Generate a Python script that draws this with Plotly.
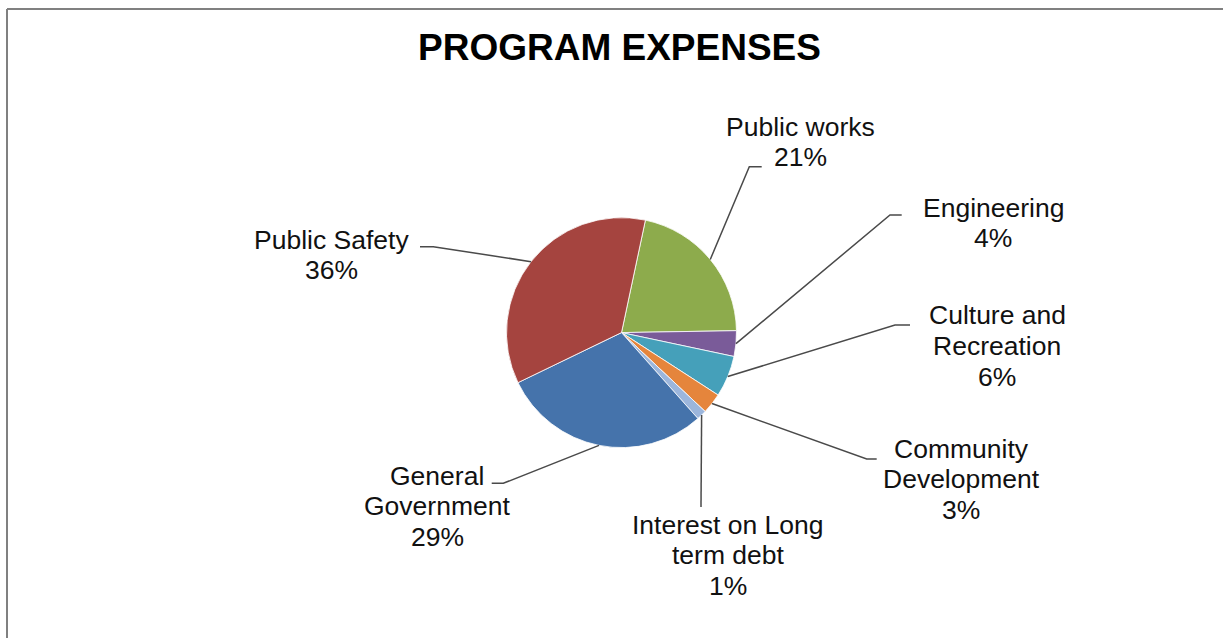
import math
import plotly.graph_objects as go

# ---- data ----
categories = ["Public works", "Engineering", "Culture and Recreation", "Community Development",
              "Interest on Long term debt", "General Government", "Public Safety"]
label_lines = [["Public works"], ["Engineering"], ["Culture and", "Recreation"], ["Community", "Development"],
               ["Interest on Long", "term debt"], ["General", "Government"], ["Public Safety"]]
values = [21.4, 3.6, 5.8, 2.9, 1.4, 29.4, 35.5]
colors = ["#8DAB4C", "#7A5B99", "#45A0BA", "#E5853C", "#9CB6DC", "#4573AB", "#A5443F"]

# ---- layout (pixels) ----
W, H = 1223, 638
CX, CY, R = 621.5, 332.6, 115.0
ROTATION = 12
LINE_H = 30.5
# label block centres and leader-line elbow points (label side), in pixels
label_pos = [(800, 142), (993, 223), (997, 346), (961, 479), (728, 555), (437, 506), (331, 255)]
elbows = [[(749.3, 166.7), (761.7, 166.7)],
          [(890, 215), (901.7, 215)],
          [(895, 325), (910, 325)],
          [(866.7, 459), (876.7, 459)],
          [(701, 507)],
          [(503.3, 483.3), (491.7, 483.3)],
          [(433.3, 246.7), (420, 246.7)]]

def px(x):
    return x / W

def py(y):
    return 1 - y / H

fig = go.Figure(go.Pie(
    labels=categories, values=values, sort=False, direction="clockwise",
    rotation=ROTATION, textinfo="none", hoverinfo="label+percent",
    marker=dict(colors=colors, line=dict(color="white", width=0.8)),
    domain=dict(x=[px(CX - R), px(CX + R)], y=[py(CY + R), py(CY - R)]),
    showlegend=False,
))

FONT = dict(family="Arial, Liberation Sans, sans-serif", size=26.5, color="#111111")
total = sum(values)
shapes = []
annotations = []
cum = 0.0
for i, v in enumerate(values):
    mid = ROTATION + (cum + v / 2) / total * 360
    cum += v
    a = math.radians(mid)
    sx, sy = CX + R * math.sin(a), CY - R * math.cos(a)
    pts = [(sx, sy)] + elbows[i]
    path = "M " + " L ".join(f"{px(x)},{py(y)}" for x, y in pts)
    shapes.append(dict(type="path", path=path, xref="paper", yref="paper",
                       line=dict(color="#4a4a4a", width=1.5)))
    pct = round(v / total * 100)
    lines = label_lines[i] + [f"{pct}%"]
    lx, ly = label_pos[i]
    n = len(lines)
    for k, t in enumerate(lines):
        yy = ly + (k - (n - 1) / 2) * LINE_H
        annotations.append(dict(x=px(lx), y=py(yy), xref="paper", yref="paper",
                                text=t, showarrow=False,
                                xanchor="center", yanchor="middle", align="center",
                                font=FONT))

annotations.append(dict(x=px(619), y=py(47), xref="paper", yref="paper",
                        text="<b>PROGRAM EXPENSES</b>", showarrow=False,
                        xanchor="center", yanchor="middle",
                        font=dict(family="Arial, Liberation Sans, sans-serif", size=37, color="#000000")))

# chart border (left and top edges visible)
shapes.append(dict(type="line", xref="paper", yref="paper", x0=px(7), x1=px(7), y0=py(9), y1=py(640),
                   line=dict(color="#808080", width=2)))
shapes.append(dict(type="line", xref="paper", yref="paper", x0=px(7), x1=px(1225), y0=py(9), y1=py(9),
                   line=dict(color="#808080", width=2)))

fig.update_layout(width=W, height=H, margin=dict(l=0, r=0, t=0, b=0),
                  paper_bgcolor="white", plot_bgcolor="white",
                  shapes=shapes, annotations=annotations)

fig.write_html("out.html")
